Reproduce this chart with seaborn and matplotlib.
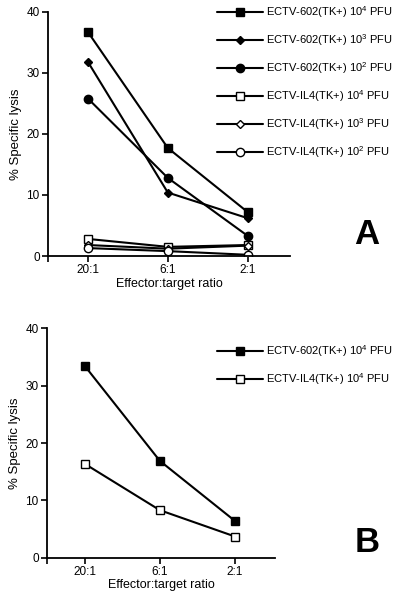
import matplotlib
matplotlib.use("Agg")
import pandas as pd
import seaborn as sns
import matplotlib.pyplot as plt

sns.set_theme(style="ticks")
plt.rcParams['font.family'] = ['Liberation Sans', 'DejaVu Sans']
plt.rcParams['mathtext.fontset'] = 'custom'
plt.rcParams['mathtext.rm'] = 'Liberation Sans'
plt.rcParams['mathtext.it'] = 'Liberation Sans:italic'
plt.rcParams['mathtext.bf'] = 'Liberation Sans:bold'
plt.rcParams['text.color'] = 'black'
plt.rcParams['axes.labelcolor'] = 'black'
plt.rcParams['xtick.color'] = 'black'
plt.rcParams['ytick.color'] = 'black'

ratios = ["20:1", "6:1", "2:1"]

# panel A
a_602_1e4 = [36.7, 17.7, 7.2]
a_602_1e3 = [31.8, 10.4, 6.2]
a_602_1e2 = [25.8, 12.8, 3.3]
a_il4_1e4 = [2.8, 1.5, 1.8]
a_il4_1e3 = [1.8, 1.2, 1.7]
a_il4_1e2 = [1.3, 0.8, 0.2]

# panel B
b_602_1e4 = [33.5, 16.9, 6.4]
b_il4_1e4 = [16.4, 8.3, 3.7]

lab_602 = "ECTV-602(TK+) 10$^{%d}$ PFU"
lab_il4 = "ECTV-IL4(TK+) 10$^{%d}$ PFU"

series_a = [
    (a_602_1e4, lab_602 % 4, "s", "black", 6),
    (a_602_1e3, lab_602 % 3, "D", "black", 4.5),
    (a_602_1e2, lab_602 % 2, "o", "black", 6),
    (a_il4_1e4, lab_il4 % 4, "s", "white", 6),
    (a_il4_1e3, lab_il4 % 3, "D", "white", 4.5),
    (a_il4_1e2, lab_il4 % 2, "o", "white", 6),
]
series_b = [
    (b_602_1e4, lab_602 % 4, "s", "black", 6),
    (b_il4_1e4, lab_il4 % 4, "s", "white", 6),
]

fig = plt.figure(figsize=(4, 5.94), dpi=100)
ax_a = fig.add_axes([0.12, 0.569, 0.605, 0.411])
ax_b = fig.add_axes([0.1175, 0.061, 0.57, 0.386])


def draw(ax, series, legend_y, letter, letter_y):
    for vals, lab, mk, face, ms in series:
        df = pd.DataFrame({"ratio": ratios, "lysis": vals})
        sns.lineplot(data=df, x="ratio", y="lysis", ax=ax, color="black",
                     linewidth=1.5, marker=mk, markersize=ms,
                     markerfacecolor=face, markeredgecolor="black",
                     markeredgewidth=1.0, label=lab, sort=False)
    ax.set_ylim(0, 40)
    ax.set_xlim(-0.5, 2.53)
    ax.set_yticks([0, 10, 20, 30, 40])
    ax.set_xticks([-0.5], minor=True)
    ax.set_xlabel("Effector:target ratio", fontsize=9, labelpad=1)
    ax.set_ylabel("% Specific lysis", fontsize=9.5, labelpad=3)
    ax.tick_params(labelsize=8.5, width=1.2, length=4, pad=2)
    ax.tick_params(axis="x", which="minor", width=1.2, length=4)
    for s in ["top", "right"]:
        ax.spines[s].set_visible(False)
    for s in ["left", "bottom"]:
        ax.spines[s].set_linewidth(1.3)
        ax.spines[s].set_color("black")
    ax.legend(loc="upper left", bbox_to_anchor=(0.5425, legend_y),
              bbox_transform=fig.transFigure, frameon=False, fontsize=8,
              handlelength=4.1, handletextpad=0.3, labelspacing=1.1,
              borderaxespad=0, borderpad=0)
    fig.text(0.918, letter_y, letter, fontsize=25, fontweight="bold",
             ha="center", va="center", color="black")


draw(ax_a, series_a, 0.993, "A", 1 - 235 / 594)
draw(ax_b, series_b, 0.423, "B", 1 - 542 / 594)

fig.savefig("out.png", dpi=100)
